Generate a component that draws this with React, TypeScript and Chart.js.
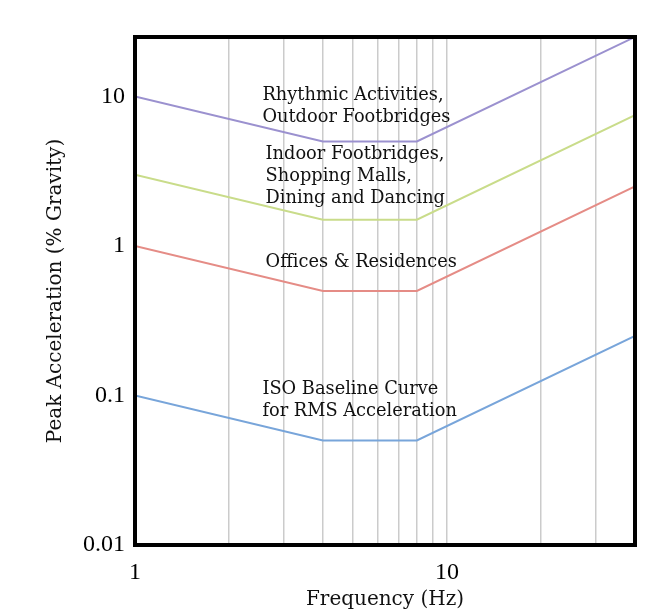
import React, { useEffect, useRef } from "react";
import { Chart, registerables } from "chart.js";

Chart.register(...registerables);

// ---- data ----
const frequencies = [1, 4, 8, 40];
const isoBaseline = [0.1, 0.05, 0.05, 0.25];
const offices = [1, 0.5, 0.5, 2.5];
const indoorFootbridges = [3, 1.5, 1.5, 7.5];
const rhythmic = [10, 5, 5, 25];

const seriesNames = [
  "Rhythmic Activities, Outdoor Footbridges",
  "Indoor Footbridges, Shopping Malls, Dining and Dancing",
  "Offices & Residences",
  "ISO Baseline Curve for RMS Acceleration",
];
const seriesColors = ["#9b91cf", "#c9dc8a", "#e58c86", "#78a5da"];

const xGridValues = [1, 2, 3, 4, 5, 6, 7, 8, 9, 10, 20, 30, 40];
const xTickLabels = ["1", "10"];
const xTickValues = [1, 10];
const yTickValues = [0.01, 0.1, 1, 10];
const yTickLabels = ["0.01", "0.1", "1", "10"];

// annotation texts anchored in data coordinates (left x in Hz, first line centre in %g)
const annotationTexts = [
  ["Rhythmic Activities,", "Outdoor Footbridges"],
  ["Indoor Footbridges,", "Shopping Malls,", "Dining and Dancing"],
  ["Offices & Residences"],
  ["ISO Baseline Curve", "for RMS Acceleration"],
];
const annotationX = [2.56, 2.62, 2.62, 2.56];
const annotationY = [10.2, 4.12, 0.78, 0.1105];

const framePlugin = {
  id: "frameAndNotes",
  afterDatasetsDraw(chart: any) {
    const { ctx, chartArea, scales } = chart;
    ctx.save();
    ctx.fillStyle = "#111";
    ctx.font = '17.8px "DejaVu Serif"';
    ctx.textAlign = "left";
    ctx.textBaseline = "middle";
    annotationTexts.forEach((lines, i) => {
      const x = scales.x.getPixelForValue(annotationX[i]);
      const y0 = scales.y.getPixelForValue(annotationY[i]);
      lines.forEach((t, j) => ctx.fillText(t, x, y0 + j * 22));
    });
    ctx.strokeStyle = "#000";
    ctx.lineWidth = 4;
    ctx.strokeRect(
      chartArea.left,
      chartArea.top,
      chartArea.right - chartArea.left,
      chartArea.bottom - chartArea.top
    );
    ctx.restore();
  },
};

export default function App() {
  const ref = useRef<HTMLCanvasElement | null>(null);
  useEffect(() => {
    document.documentElement.style.overflow = "hidden";
    const series = [rhythmic, indoorFootbridges, offices, isoBaseline];
    const chart = new Chart(ref.current as HTMLCanvasElement, {
      type: "line",
      data: {
        datasets: series.map((s, i) => ({
          label: seriesNames[i],
          data: frequencies.map((f, k) => ({ x: f, y: s[k] })),
          borderColor: seriesColors[i],
          backgroundColor: seriesColors[i],
          borderWidth: 2,
          pointRadius: 0,
          tension: 0,
        })),
      },
      options: {
        responsive: false,
        animation: false,
        layout: { padding: { top: 29, right: 26, left: 0, bottom: 0 } },
        plugins: { legend: { display: false }, tooltip: { enabled: false } },
        scales: {
          x: {
            type: "logarithmic",
            min: 1,
            max: 40,
            afterBuildTicks: (scale: any) => {
              scale.ticks = xGridValues.map((v) => ({ value: v }));
            },
            afterFit: (scale: any) => {
              scale.height = 67;
            },
            ticks: {
              autoSkip: false,
              maxRotation: 0,
              padding: 13,
              color: "#000",
              font: { family: '"Liberation Serif"', size: 24 },
              callback: (v: any) => {
                const idx = xTickValues.indexOf(Number(v));
                return idx >= 0 ? xTickLabels[idx] : "";
              },
            },
            grid: { color: "#cbcbcb", lineWidth: 1.5, drawTicks: false },
            border: { display: false },
            title: {
              display: true,
              text: "Frequency (Hz)",
              color: "#111",
              font: { family: '"DejaVu Serif"', size: 20 },
              padding: { top: 0, bottom: 0 },
            },
          },
          y: {
            type: "logarithmic",
            min: 0.01,
            max: 25,
            afterBuildTicks: (scale: any) => {
              scale.ticks = yTickValues.map((v) => ({ value: v }));
            },
            afterFit: (scale: any) => {
              scale.width = 127;
            },
            ticks: {
              autoSkip: false,
              padding: 10,
              color: "#000",
              font: { family: '"Liberation Serif"', size: 24 },
              callback: (_v: any, i: number) => yTickLabels[i],
            },
            grid: { display: false, drawTicks: false },
            border: { display: false },
            title: {
              display: true,
              text: "Peak Acceleration (% Gravity)",
              color: "#111",
              font: { family: '"DejaVu Serif"', size: 20 },
              padding: { top: 36, bottom: 0 },
            },
          },
        },
      },
      plugins: [framePlugin],
    } as any);
    return () => chart.destroy();
  }, []);
  return (
    <div style={{ width: 653, height: 604 }}>
      <canvas ref={ref} width={653} height={604} />
    </div>
  );
}
